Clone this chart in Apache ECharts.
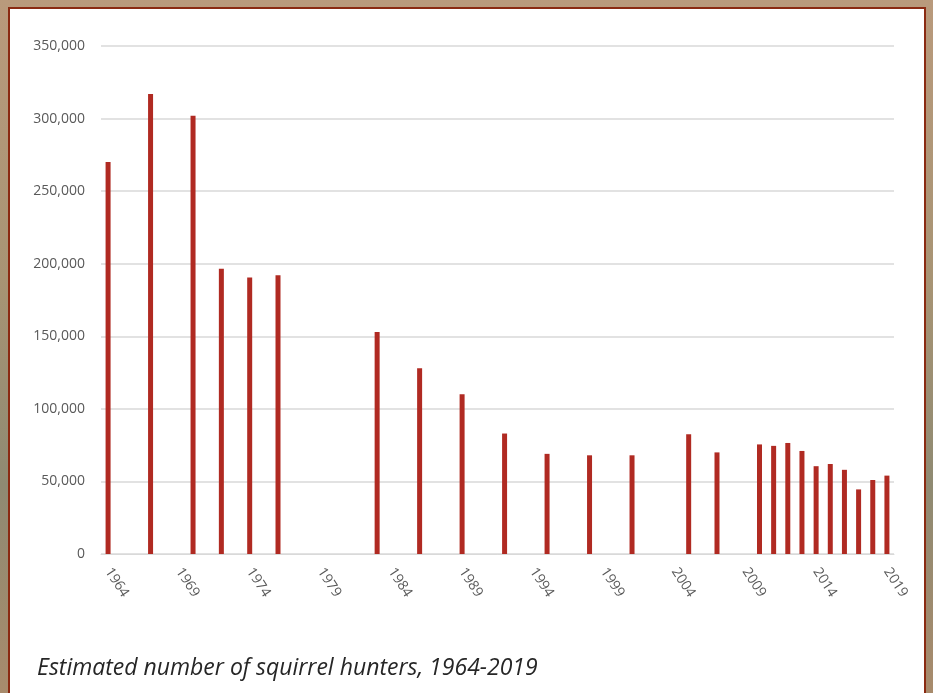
<!DOCTYPE html>
<html>
<head>
<meta charset="utf-8">
<script src="https://cdn.jsdelivr.net/npm/echarts@6/dist/echarts.min.js"></script>
<style>
  html, body { margin: 0; padding: 0; }
  body {
    width: 933px; height: 693px; overflow: hidden; position: relative;
    background: linear-gradient(180deg, #b99a7c 0%, #a89474 40%, #8f8a72 70%, #a88b6c 100%);
  }
  #frame {
    position: absolute; left: 8px; top: 7px; width: 918px; height: 700px;
    background: #fff; border: 2.5px solid #8a2a12; box-sizing: border-box;
  }
  #main { position: absolute; left: 0; top: 0; width: 933px; height: 693px; }
</style>
</head>
<body>
<div id="frame"></div>
<div id="main"></div>
<script>
// years on the x axis, 1964-2019
const years = [];
for (let y = 1964; y <= 2019; y++) years.push(String(y));

// estimated squirrel hunters (null = no survey that year)
const hunters = [
  270000, null, null, 317000, null, null, 302000, null, 196500, null,   // 1964-1973
  190500, null, 192000, null, null, null, null, null, null, 153000,     // 1974-1983
  null, null, 128000, null, null, 110000, null, null, 83000, null,      // 1984-1993
  null, 69000, null, null, 68000, null, null, 68000, null, null,        // 1994-2003
  null, 82500, null, 70000, null, null, 75500, 74500, 76500, 71000,     // 2004-2013
  60500, 62000, 58000, 44500, 51000, 54000                              // 2014-2019
];

const caption = 'Estimated number of squirrel hunters, 1964-2019';

let chart = echarts.init(document.getElementById('main'));
let option = {
  backgroundColor: 'transparent',
  animation: false,
  title: {
    text: caption,
    left: 32,
    top: 652,
    textStyle: {
      fontFamily: 'Open Sans',
      fontStyle: 'italic',
      fontWeight: 'normal',
      fontSize: 23,
      color: '#262626'
    }
  },
  grid: { left: 101, right: 39, top: 46, bottom: 139 },
  xAxis: {
    type: 'category',
    data: years,
    axisLine: { lineStyle: { color: '#d9d9d9', width: 1 } },
    axisTick: { inside: true, length: 4, lineStyle: { color: '#e3e3e3' } },
    axisLabel: {
      interval: 4,
      rotate: -57,
      margin: 15,
      fontFamily: 'Open Sans',
      fontSize: 14,
      color: '#595959'
    }
  },
  yAxis: {
    type: 'value',
    min: 0,
    max: 350000,
    interval: 50000,
    axisLine: { show: false },
    axisTick: { show: false },
    splitLine: { lineStyle: { color: '#d9d9d9', width: 1.5 } },
    axisLabel: {
      margin: 16,
      fontFamily: 'Open Sans',
      fontSize: 14,
      color: '#595959',
      formatter: v => v.toLocaleString('en-US')
    }
  },
  series: [{
    type: 'bar',
    data: hunters,
    barWidth: 5,
    itemStyle: { color: '#b02a22' }
  }]
};
chart.setOption(option);
</script>
</body>
</html>
